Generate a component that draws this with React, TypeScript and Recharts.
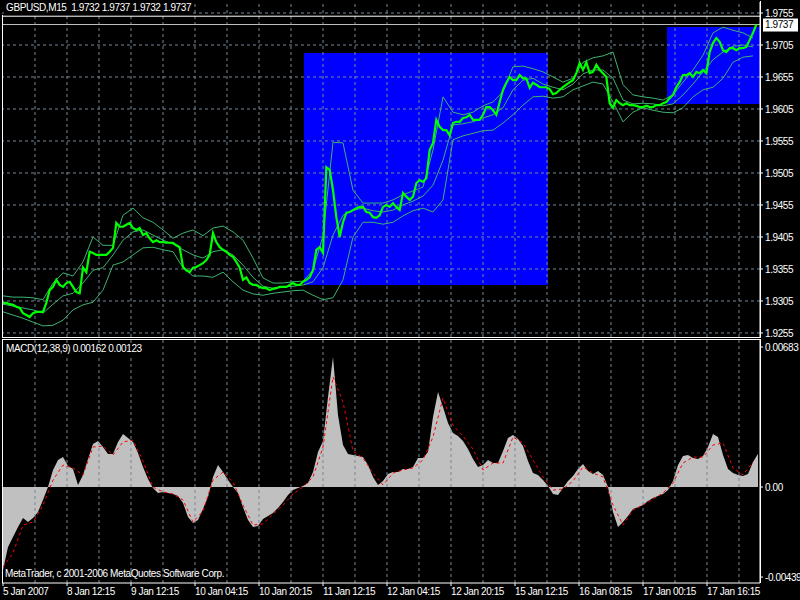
import React from 'react';
import { ComposedChart, Line, Area, XAxis, YAxis, ReferenceArea, ReferenceLine } from 'recharts';

// GBPUSD M15 closes, one sample every 10/3 bars
const PRICE = [
  1.9302, 1.9302, 1.9300, 1.9299, 1.9296, 1.9294, 1.9286, 1.9283, 1.9280, 1.9286, 1.9288, 1.9288, 1.9288,
  1.9302, 1.9322, 1.9327, 1.9338, 1.9330, 1.9327, 1.9333, 1.9335, 1.9327, 1.9319, 1.9317, 1.9357, 1.9350,
  1.9382, 1.9380, 1.9377, 1.9377, 1.9377, 1.9377, 1.9382, 1.9388, 1.9427, 1.9421, 1.9421, 1.9424, 1.9427,
  1.9419, 1.9416, 1.9419, 1.9408, 1.9411, 1.9403, 1.9397, 1.9400, 1.9397, 1.9397, 1.9396, 1.9396, 1.9396, 1.9392, 1.9389,
  1.9358, 1.9353, 1.9350, 1.9357, 1.9358, 1.9361, 1.9364, 1.9369, 1.9377, 1.9411, 1.9397, 1.9389, 1.9385, 1.9382, 1.9377, 1.9374, 1.9366, 1.9357,
  1.9338, 1.9342, 1.9333, 1.9330, 1.9330, 1.9327, 1.9325, 1.9325, 1.9322, 1.9324, 1.9325, 1.9327, 1.9327, 1.9327, 1.9330, 1.9333, 1.9330, 1.9330,
  1.9335, 1.9338, 1.9342, 1.9353, 1.9385, 1.9389, 1.9380,
  1.9514, 1.9510, 1.9478, 1.9436, 1.9405, 1.9428, 1.9443, 1.9444, 1.9447, 1.9450, 1.9452, 1.9452, 1.9444, 1.9443, 1.9436, 1.9435, 1.9439,
  1.9452, 1.9455, 1.9452, 1.9458, 1.9452, 1.9447, 1.9474, 1.9468, 1.9463, 1.9468, 1.9489, 1.9494, 1.9491, 1.9497, 1.9541, 1.9552,
  1.9588, 1.9577, 1.9572, 1.9572, 1.9564, 1.9583, 1.9585, 1.9585, 1.9591, 1.9592, 1.9596, 1.9588, 1.9588, 1.9588, 1.9596, 1.9608, 1.9608, 1.9603, 1.9596,
  1.9616, 1.9635, 1.9646, 1.9655, 1.9650, 1.9650, 1.9658, 1.9653, 1.9653, 1.9638, 1.9646, 1.9643, 1.9639, 1.9639, 1.9639,
  1.9636, 1.9628, 1.9630, 1.9635, 1.9639, 1.9643, 1.9647, 1.9650, 1.9661, 1.9677, 1.9666, 1.9678, 1.9661, 1.9663, 1.9674, 1.9666, 1.9661, 1.9655,
  1.9614, 1.9607, 1.9619, 1.9614, 1.9611, 1.9614, 1.9611, 1.9611, 1.9610, 1.9608, 1.9608, 1.9610, 1.9608, 1.9608, 1.9611, 1.9611, 1.9614, 1.9616,
  1.9622, 1.9627, 1.9639, 1.9647, 1.9658, 1.9658, 1.9661, 1.9655, 1.9663, 1.9661, 1.9666, 1.9661,
  1.9694, 1.9708, 1.9716, 1.9710, 1.9697, 1.9694, 1.9700, 1.9700, 1.9697, 1.9700, 1.9700, 1.9702, 1.9713, 1.9724, 1.9737,
];

// Bollinger bands, one sample every 10 bars
const BB_UPPER = [
  1.9313, 1.9311, 1.9311, 1.9310, 1.9307, 1.9333, 1.9349, 1.9344, 1.9366, 1.9405,
  1.9392, 1.9392, 1.9439, 1.9450, 1.9435, 1.9428, 1.9416, 1.9403, 1.9411, 1.9416,
  1.9407, 1.9419, 1.9422, 1.9413, 1.9400, 1.9372, 1.9341, 1.9333, 1.9333, 1.9335,
  1.9336, 1.9353, 1.9407, 1.9553, 1.9552, 1.9478, 1.9458, 1.9458, 1.9458, 1.9463,
  1.9471, 1.9477, 1.9483, 1.9541, 1.9624, 1.9600, 1.9596, 1.9600, 1.9610, 1.9616,
  1.9632, 1.9671, 1.9672, 1.9668, 1.9663, 1.9655, 1.9647, 1.9653, 1.9678, 1.9685,
  1.9688, 1.9694, 1.9643, 1.9627, 1.9624, 1.9622, 1.9619, 1.9627, 1.9647, 1.9666,
  1.9689, 1.9724, 1.9733, 1.9728, 1.9724, 1.9716,
];
const BB_MIDDLE = [
  1.9300, 1.9297, 1.9294, 1.9291, 1.9286, 1.9300, 1.9313, 1.9317, 1.9333, 1.9353,
  1.9357, 1.9377, 1.9400, 1.9413, 1.9416, 1.9408, 1.9400, 1.9394, 1.9385, 1.9377,
  1.9372, 1.9382, 1.9385, 1.9377, 1.9361, 1.9342, 1.9328, 1.9325, 1.9327, 1.9328,
  1.9330, 1.9335, 1.9357, 1.9408, 1.9439, 1.9447, 1.9450, 1.9446, 1.9444, 1.9447,
  1.9455, 1.9461, 1.9469, 1.9486, 1.9525, 1.9580, 1.9582, 1.9585, 1.9591, 1.9596,
  1.9607, 1.9635, 1.9650, 1.9653, 1.9644, 1.9639, 1.9635, 1.9644, 1.9660, 1.9666,
  1.9666, 1.9653, 1.9619, 1.9613, 1.9614, 1.9613, 1.9610, 1.9613, 1.9627, 1.9644,
  1.9663, 1.9682, 1.9694, 1.9703, 1.9705, 1.9702,
];
const BB_LOWER = [
  1.9288, 1.9283, 1.9278, 1.9272, 1.9266, 1.9267, 1.9275, 1.9291, 1.9299, 1.9303,
  1.9322, 1.9361, 1.9366, 1.9377, 1.9388, 1.9389, 1.9385, 1.9382, 1.9357, 1.9344,
  1.9344, 1.9342, 1.9350, 1.9335, 1.9322, 1.9316, 1.9314, 1.9317, 1.9319, 1.9321,
  1.9322, 1.9314, 1.9307, 1.9310, 1.9338, 1.9405, 1.9428, 1.9428, 1.9425, 1.9428,
  1.9438, 1.9446, 1.9450, 1.9444, 1.9463, 1.9557, 1.9563, 1.9567, 1.9571, 1.9572,
  1.9583, 1.9596, 1.9611, 1.9624, 1.9625, 1.9622, 1.9624, 1.9635, 1.9641, 1.9647,
  1.9644, 1.9616, 1.9585, 1.9600, 1.9607, 1.9603, 1.9600, 1.9599, 1.9607, 1.9624,
  1.9635, 1.9639, 1.9653, 1.9678, 1.9686, 1.9688,
];

// MACD(12,38,9) main histogram, one sample every 5 bars
const MACD_MAIN = [
  -0.00405, -0.00293, -0.00244, -0.00195, -0.00151, -0.00171, -0.00151, -0.00122, -0.00063, 0,
  0.00083, 0.00132, 0.00146, 0.00102, 0.00088, 0.0001, 0.00059, 0.00137, 0.0021, 0.00224,
  0.00195, 0.00161, 0.00161, 0.0022, 0.00259, 0.00239, 0.0022, 0.00166, 0.00098, 0.00039,
  -0.00005, -0.00029, -0.00024, -0.00029, -0.00034, -0.00044, -0.00078, -0.00146, -0.00176, -0.00161,
  -0.00107, -0.00049, 0.00049, 0.00107, 0.00073, 0.00034, 0, -0.00029, -0.00098, -0.00161,
  -0.00195, -0.0019, -0.00156, -0.00141, -0.00127, -0.00102, -0.00073, -0.00039, -0.00015, -0.00005,
  0.00005, 0.0002, 0.00073, 0.00171, 0.00224, 0.00439, 0.00634, 0.00351, 0.00205, 0.00161,
  0.00156, 0.00151, 0.00146, 0.00107, 0.00049, 0.0001, 0.00029, 0.00063, 0.00073, 0.00073,
  0.00088, 0.00088, 0.00098, 0.00141, 0.00141, 0.00171, 0.00341, 0.00463, 0.0039, 0.00312,
  0.00263, 0.00249, 0.00224, 0.00185, 0.00137, 0.00098, 0.00107, 0.00132, 0.00117, 0.00117,
  0.00176, 0.00239, 0.00254, 0.00234, 0.002, 0.00127, 0.00068, 0.00059, 0.00034, 0.00005,
  -0.00034, -0.00039, -0.00005, 0.00029, 0.00054, 0.00088, 0.00112, 0.00078, 0.00063, 0.00078,
  0.00059, 0, -0.00122, -0.00195, -0.00171, -0.00141, -0.00107, -0.00098, -0.00088, -0.00068,
  -0.00054, -0.00044, -0.00034, -0.00015, 0.00029, 0.00107, 0.00151, 0.00156, 0.00141, 0.00137,
  0.00151, 0.00195, 0.00259, 0.00244, 0.00156, 0.00088, 0.00068, 0.00059, 0.00054, 0.00063,
  0.00122, 0.00162,
];

// MACD signal line, one sample every 10 bars
const MACD_SIGNAL = [
  -0.0039, -0.00322, -0.00185, -0.00171, -0.00088, 0.00034, 0.00107, 0.00093, 0.00059, 0.00195,
  0.002, 0.00156, 0.0022, 0.00229, 0.00127, 0, -0.00024, -0.00034, -0.00063, -0.00171,
  -0.00117, 0.00034, 0.00073, 0.00024, -0.00088, -0.00185, -0.0018, -0.00132, -0.00088, -0.00034,
  0, 0.00049, 0.00195, 0.00537, 0.00415, 0.00176, 0.00141, 0.00068, 0.0001, 0.00068,
  0.00083, 0.00093, 0.00132, 0.00244, 0.00434, 0.00302, 0.00249, 0.00185, 0.00083, 0.00117,
  0.00117, 0.00244, 0.00215, 0.00132, 0.00049, -0.00015, -0.0001, 0.00029, 0.00098, 0.00068,
  0.00049, -0.00088, -0.00185, -0.00112, -0.00088, -0.00059, -0.00029, 0.0002, 0.00117, 0.00146,
  0.00146, 0.00205, 0.00215, 0.00093, 0.00059, 0.00123,
];

const PRICE_TICKS = [1.9255, 1.9305, 1.9355, 1.9405, 1.9455, 1.9505, 1.9555, 1.9605, 1.9655, 1.9705, 1.9755];
const MACD_TICKS = [0.00683, 0, -0.00439];
const TIME_TICKS = [0, 64, 128, 192, 256, 320, 384, 448, 512, 576, 640, 704];
const TIME_LABELS = [
  '5 Jan 2007', '8 Jan 12:15', '9 Jan 12:15', '10 Jan 04:15', '10 Jan 20:15', '11 Jan 12:15',
  '12 Jan 04:15', '12 Jan 20:15', '15 Jan 12:15', '16 Jan 08:15', '17 Jan 00:15', '17 Jan 16:15',
];
const GRID_BARS = [32, 64, 96, 128, 160, 192, 224, 256, 288, 320, 352, 384, 416, 448, 480, 512, 544, 576, 608, 640, 672, 704, 736];
const BOXES = [
  { from: 301, to: 545, low: 1.933, high: 1.96925 },
  { from: 664, to: 757, low: 1.96128, high: 1.97331 },
];
const TOP_LINE = 1.9750;

const priceData = PRICE.map((p, i) => ({ bar: (i * 10) / 3, close: p }));
const bandData = BB_UPPER.map((u, i) => ({ bar: i * 10, upper: u, middle: BB_MIDDLE[i], lower: BB_LOWER[i] }));
const histData = MACD_MAIN.map((v, i) => ({ bar: i * 5, main: v }));
const signalData = MACD_SIGNAL.map((v, i) => ({ bar: i * 10, signal: v }));
const lastPrice = PRICE[PRICE.length - 1].toFixed(4);

const FONT = "'Liberation Sans', Arial, sans-serif";
const GRID = '#778899';
const BAND = '#3CB371';
const X_DOMAIN = [-1, 757];

const textStyle: React.CSSProperties = {
  position: 'absolute', color: '#fff', fontFamily: FONT, fontSize: 10,
  letterSpacing: '-0.4px', whiteSpace: 'pre', lineHeight: '12px', background: '#000',
};

const RightTick = (props: any) => {
  const { x, y, payload, fmt } = props;
  return (
    <text x={x} y={y} dy="0.355em" fill="#fff" fontSize={10} fontFamily={FONT} textAnchor="start" letterSpacing="-0.4">
      {fmt(payload.value)}
    </text>
  );
};

const TimeTick = (props: any) => {
  const { x, y, payload } = props;
  return (
    <text x={x} y={y} dy="0.71em" fill="#fff" fontSize={10} fontFamily={FONT} textAnchor="start" letterSpacing="-0.4">
      {TIME_LABELS[TIME_TICKS.indexOf(payload.value)]}
    </text>
  );
};

const BidLabel = (props: any) => {
  const { viewBox } = props;
  const x = viewBox.x + viewBox.width;
  const y = viewBox.y;
  return (
    <g>
      <rect x={x + 3} y={y - 6} width={35} height={13} fill="#fff" />
      <text x={x + 5} y={y} dy="0.355em" fill="#000" fontSize={10} fontFamily={FONT} letterSpacing="-0.4">
        {lastPrice}
      </text>
    </g>
  );
};

const App: React.FC = () => {
  return (
    <div style={{ position: 'fixed', left: 0, top: 0, width: 800, height: 600, background: '#000', overflow: 'hidden' }}>
      <div style={{ position: 'absolute', left: 0, top: 0 }}>
        <ComposedChart width={800} height={340} margin={{ top: 2, right: 0, bottom: 3, left: 2 }}>
          <XAxis dataKey="bar" type="number" domain={X_DOMAIN} allowDataOverflow hide />
          <YAxis
            orientation="right"
            width={40}
            type="number"
            domain={[1.92487, 1.97722]}
            allowDataOverflow
            ticks={PRICE_TICKS}
            interval={0}
            stroke="#fff"
            tickSize={3}
            tickMargin={2}
            tick={<RightTick fmt={(v: number) => v.toFixed(4)} />}
          />
          {BOXES.map((b, i) => (
            <ReferenceArea key={`box-${i}`} x1={b.from} x2={b.to} y1={b.low} y2={b.high} fill="#0000FF" fillOpacity={1} stroke="none" ifOverflow="hidden" />
          ))}
          {GRID_BARS.map((g) => (
            <ReferenceLine key={`gx-${g}`} x={g} stroke={GRID} strokeDasharray="3 3" />
          ))}
          {PRICE_TICKS.map((t) => (
            <ReferenceLine key={`gy-${t}`} y={t} stroke={GRID} strokeDasharray="3 3" />
          ))}
          <ReferenceLine y={TOP_LINE} stroke="#fff" />
          <ReferenceLine y={PRICE[PRICE.length - 1]} stroke="#C0C0C0" label={<BidLabel />} />
          <Line data={bandData} dataKey="upper" stroke={BAND} strokeWidth={1} dot={false} isAnimationActive={false} />
          <Line data={bandData} dataKey="middle" stroke={BAND} strokeWidth={1} dot={false} isAnimationActive={false} />
          <Line data={bandData} dataKey="lower" stroke={BAND} strokeWidth={1} dot={false} isAnimationActive={false} />
          <Line data={priceData} dataKey="close" stroke="#00FF00" strokeWidth={2.2} dot={false} isAnimationActive={false} />
        </ComposedChart>
      </div>

      <div style={{ position: 'absolute', left: 0, top: 340 }}>
        <ComposedChart width={800} height={260} margin={{ top: 0, right: 0, bottom: 0, left: 2 }}>
          <XAxis
            dataKey="bar"
            type="number"
            domain={X_DOMAIN}
            allowDataOverflow
            ticks={TIME_TICKS}
            interval={0}
            height={17}
            stroke="#fff"
            tickSize={3}
            tickMargin={2}
            tick={<TimeTick />}
          />
          <YAxis
            orientation="right"
            width={40}
            type="number"
            domain={[-0.00468, 0.00717]}
            allowDataOverflow
            ticks={MACD_TICKS}
            interval={0}
            stroke="#fff"
            tickSize={3}
            tickMargin={2}
            tick={<RightTick fmt={(v: number) => (v === 0 ? '0.00' : v.toFixed(5))} />}
          />
          {GRID_BARS.map((g) => (
            <ReferenceLine key={`mx-${g}`} x={g} stroke={GRID} strokeDasharray="3 3" />
          ))}
          <Area data={histData} dataKey="main" type="linear" baseValue={0} fill="#C0C0C0" fillOpacity={1} stroke="none" isAnimationActive={false} />
          <Line data={signalData} dataKey="signal" stroke="#FF0000" strokeWidth={1} strokeDasharray="3 3" dot={false} isAnimationActive={false} />
        </ComposedChart>
      </div>

      {/* panel frames */}
      <div style={{ position: 'absolute', left: 2, top: 15, width: 1, height: 323, background: '#fff' }} />
      <div style={{ position: 'absolute', left: 760, top: 1, width: 1, height: 337, background: '#fff' }} />
      <div style={{ position: 'absolute', left: 2, top: 337, width: 759, height: 1, background: '#fff' }} />
      <div style={{ position: 'absolute', left: 2, top: 339, width: 759, height: 244, borderLeft: '1px solid #fff', borderTop: '1px solid #fff', borderRight: '1px solid #fff', boxSizing: 'border-box', pointerEvents: 'none' }} />

      <div style={{ ...textStyle, left: 4, top: 2, paddingLeft: 2 }}>{'GBPUSD,M15  1.9732 1.9737 1.9732 1.9737'}</div>
      <div style={{ ...textStyle, left: 6, top: 343 }}>{'MACD(12,38,9) 0.00162 0.00123'}</div>
      <div style={{ ...textStyle, left: 5, top: 568, background: 'transparent' }}>{'MetaTrader, c 2001-2006 MetaQuotes Software Corp.'}</div>
    </div>
  );
};

export default App;
